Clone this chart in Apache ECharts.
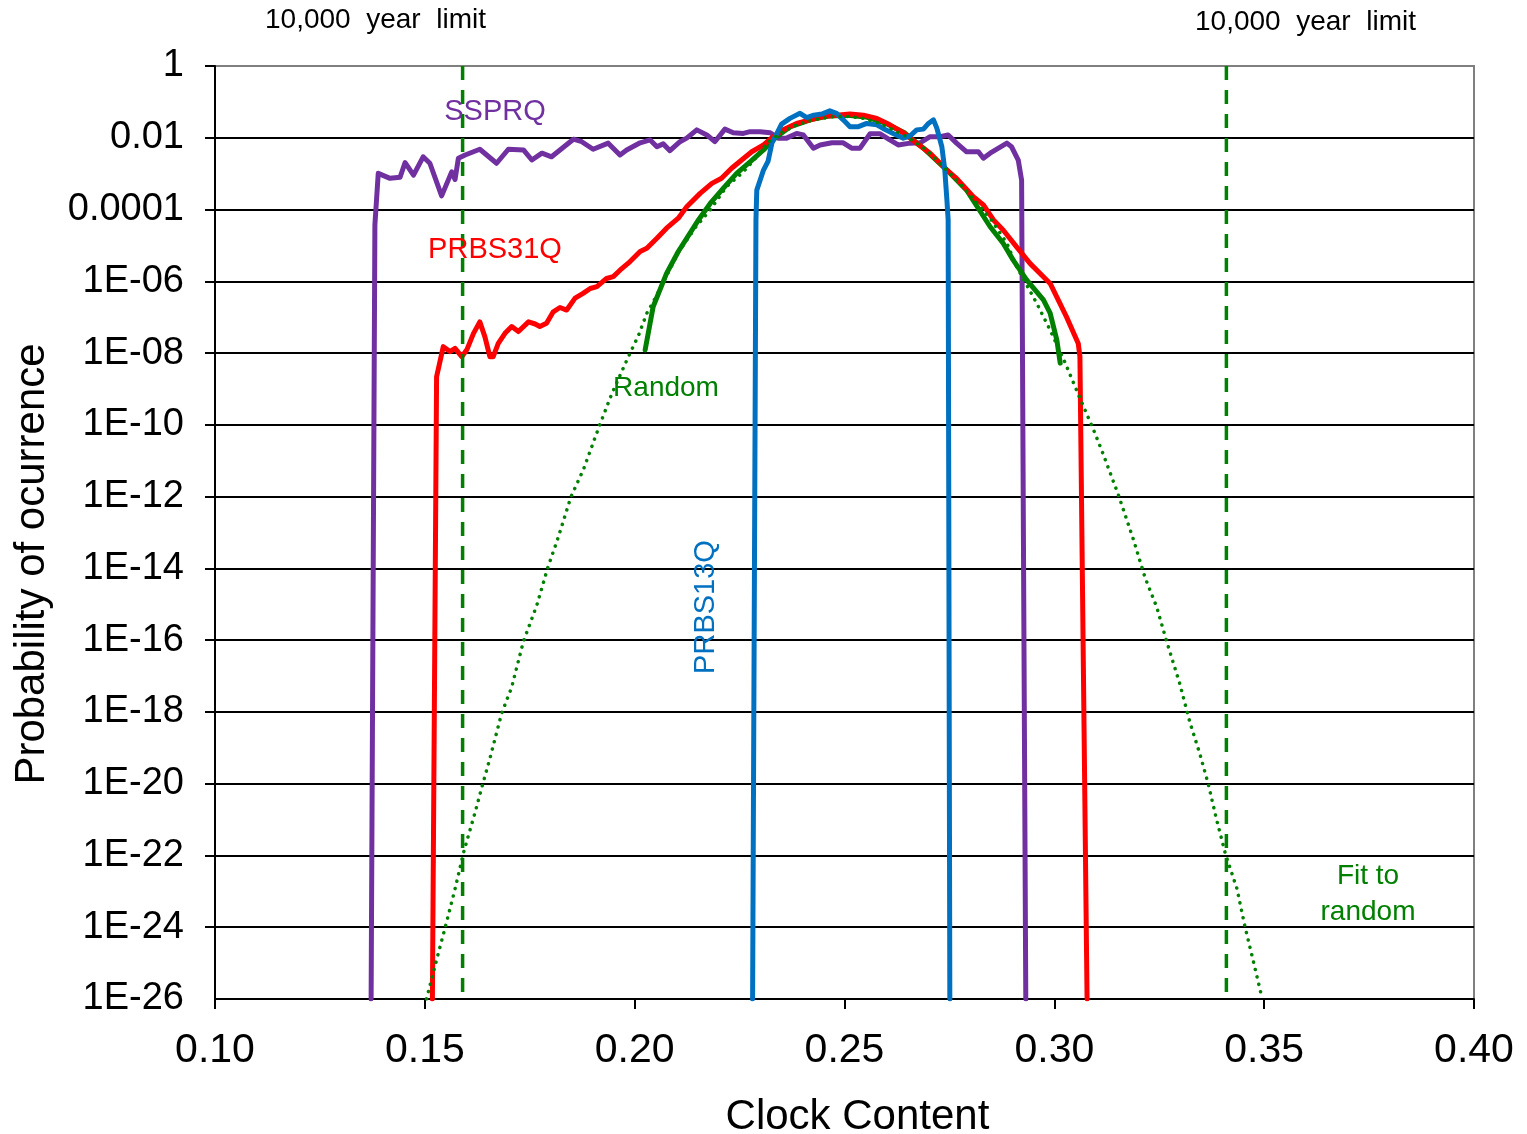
<!DOCTYPE html>
<html><head><meta charset="utf-8">
<script src="https://cdn.jsdelivr.net/npm/echarts@6/dist/echarts.min.js"></script>
<style>html,body{margin:0;padding:0;background:#fff}#c{width:1527px;height:1134px}</style>
</head><body><div id="c"></div>
<script>
// ---- Data ----
const xTicks = [0.10, 0.15, 0.20, 0.25, 0.30, 0.35, 0.40];
const yTicks = [1e-26, 1e-24, 1e-22, 1e-20, 1e-18, 1e-16, 1e-14, 1e-12, 1e-10, 1e-8, 1e-6, 1e-4, 1e-2, 1];
const limitX = [0.159, 0.341];

const ssprqX = [0.1372,0.1381,0.1389,0.1417,0.1441,0.1453,0.1473,0.1496,0.1512,0.1540,0.1564,0.1572,0.1580,0.1596,0.1631,0.1671,0.1699,0.1735,0.1755,0.1779,0.1802,0.1854,0.1874,0.1901,0.1937,0.1965,0.1981,0.2013,0.2037,0.2053,0.2068,0.2084,0.2108,0.2124,0.2148,0.2172,0.2191,0.2215,0.2235,0.2259,0.2275,0.2299,0.2323,0.2342,0.2362,0.2386,0.2402,0.2426,0.2442,0.2470,0.2497,0.2517,0.2537,0.2561,0.2585,0.2608,0.2628,0.2656,0.2680,0.2704,0.2728,0.2747,0.2767,0.2791,0.2819,0.2831,0.2847,0.2887,0.2898,0.2914,0.2922,0.2932];
const ssprqP = [1e-26,3.72e-5,1.02e-3,7.41e-4,7.94e-4,2.04e-3,9.12e-4,2.95e-3,1.95e-3,2.40e-4,1.12e-3,6.92e-4,2.69e-3,3.31e-3,4.79e-3,1.95e-3,4.79e-3,4.57e-3,2.40e-3,3.72e-3,2.95e-3,9.12e-3,7.76e-3,4.79e-3,7.08e-3,3.31e-3,4.57e-3,7.24e-3,8.71e-3,5.62e-3,6.76e-3,4.37e-3,7.76e-3,9.77e-3,1.66e-2,1.20e-2,7.76e-3,1.74e-2,1.38e-2,1.32e-2,1.48e-2,1.48e-2,1.38e-2,9.77e-3,9.77e-3,1.32e-2,1.20e-2,5.13e-3,6.31e-3,7.24e-3,7.24e-3,5.13e-3,5.13e-3,1.29e-2,1.29e-2,8.71e-3,6.31e-3,7.08e-3,7.24e-3,1.07e-2,1.07e-2,1.20e-2,7.08e-3,4.07e-3,4.07e-3,2.69e-3,3.72e-3,7.08e-3,5.62e-3,2.40e-3,6.61e-4,1e-26];

const prbs31X = [0.1518,0.1528,0.1544,0.1560,0.1572,0.1588,0.1600,0.1616,0.1631,0.1643,0.1655,0.1663,0.1675,0.1691,0.1707,0.1723,0.1747,0.1763,0.1774,0.1790,0.1806,0.1822,0.1838,0.1858,0.1878,0.1894,0.1910,0.1933,0.1949,0.1965,0.1989,0.2013,0.2029,0.2053,0.2076,0.2104,0.2124,0.2156,0.2184,0.2207,0.2231,0.2255,0.2279,0.2307,0.2330,0.2354,0.2386,0.2418,0.2450,0.2481,0.2513,0.2545,0.2577,0.2608,0.2640,0.2672,0.2704,0.2744,0.2767,0.2807,0.2831,0.2855,0.2878,0.2910,0.2942,0.2990,0.3029,0.3057,0.3061,0.3078];
const prbs31P = [1e-26,2.19e-9,1.51e-8,1.10e-8,1.35e-8,7.94e-9,1.23e-8,3.55e-8,7.41e-8,2.88e-8,7.94e-9,7.94e-9,1.86e-8,3.55e-8,5.50e-8,3.98e-8,7.41e-8,6.46e-8,5.50e-8,6.76e-8,1.41e-7,1.86e-7,1.58e-7,3.39e-7,4.68e-7,6.31e-7,7.08e-7,1.20e-6,1.35e-6,2.04e-6,3.55e-6,6.76e-6,8.32e-6,1.58e-5,3.02e-5,5.75e-5,1.20e-4,2.82e-4,5.37e-4,7.41e-4,1.41e-3,2.40e-3,4.07e-3,6.31e-3,1.07e-2,1.66e-2,2.51e-2,3.16e-2,3.89e-2,4.27e-2,4.57e-2,4.27e-2,3.47e-2,2.29e-2,1.38e-2,7.08e-3,3.72e-3,1.26e-3,7.41e-4,2.29e-4,1.35e-4,5.13e-5,2.69e-5,9.12e-6,3.16e-6,8.71e-7,1.02e-7,1.86e-8,7.94e-9,1e-26];

const randomX = [0.2025,0.2044,0.2076,0.2104,0.2152,0.2180,0.2211,0.2243,0.2275,0.2307,0.2338,0.2370,0.2418,0.2465,0.2508,0.2551,0.2597,0.2644,0.2688,0.2744,0.2791,0.2847,0.2878,0.2902,0.2934,0.2974,0.2990,0.3006,0.3014];
const randomP = [1.23e-8,1.95e-7,1.66e-6,6.76e-6,5.13e-5,1.48e-4,3.89e-4,1.02e-3,2.14e-3,4.57e-3,1.07e-2,2.00e-2,3.16e-2,4.07e-2,4.27e-2,3.80e-2,2.57e-2,1.35e-2,5.13e-3,1.26e-3,3.47e-4,3.31e-5,1.15e-5,3.89e-6,1.10e-6,3.02e-7,1.29e-7,2.29e-8,5.25e-9];

const fitX = [0.1504,0.1528,0.1548,0.1572,0.1593,0.1620,0.1637,0.1655,0.1683,0.1707,0.1735,0.1767,0.1793,0.1818,0.1848,0.1878,0.1917,0.1945,0.1985,0.2009,0.2029,0.2049,0.2105,0.2144,0.2180,0.2219,0.2259,0.2291,0.2315,0.2346,0.2386,0.2426,0.2473,0.2513,0.2545,0.2585,0.2616,0.2648,0.2696,0.2735,0.2775,0.2823,0.2847,0.2887,0.2910,0.2958,0.2990,0.3025,0.3061,0.3091,0.3113,0.3152,0.3188,0.3216,0.3244,0.3266,0.3299,0.3323,0.3347,0.3367,0.3387,0.3408,0.3435,0.3454,0.3474,0.3492,0.3495];
const fitP = [1e-26,1.23e-25,9.33e-25,1.17e-23,1.29e-22,1.62e-21,8.91e-21,5.01e-20,9.12e-19,4.90e-18,9.33e-17,9.55e-16,1.05e-14,7.41e-14,9.77e-13,5.75e-12,1.02e-10,7.08e-10,7.94e-9,3.09e-8,1.29e-7,3.39e-7,6.61e-6,3.09e-5,9.77e-5,4.37e-4,1.12e-3,2.95e-3,7.08e-3,1.32e-2,2.29e-2,3.16e-2,3.89e-2,3.89e-2,3.47e-2,2.51e-2,1.66e-2,1.07e-2,4.57e-3,1.55e-3,5.37e-4,1.20e-4,5.75e-5,1.15e-5,2.57e-6,2.45e-7,4.37e-8,5.62e-9,5.50e-10,8.51e-11,1.95e-11,1.17e-12,6.61e-14,5.62e-15,8.32e-16,1.07e-16,6.03e-18,5.13e-19,6.61e-20,9.55e-21,9.55e-22,1.07e-22,1.20e-23,1.07e-24,1.15e-25,1.48e-26,1e-26];

const prbs13X = [0.2281,0.2289,0.2291,0.2307,0.2318,0.2327,0.2339,0.2350,0.2370,0.2394,0.2410,0.2427,0.2446,0.2465,0.2481,0.2497,0.2513,0.2533,0.2553,0.2577,0.2592,0.2616,0.2640,0.2656,0.2672,0.2688,0.2700,0.2712,0.2720,0.2732,0.2739,0.2744,0.2747,0.2751];
const prbs13P = [1e-26,5.13e-5,3.47e-4,1.26e-3,2.24e-3,7.08e-3,1.32e-2,2.40e-2,3.47e-2,4.79e-2,3.63e-2,4.27e-2,4.57e-2,5.62e-2,4.79e-2,3.16e-2,2.04e-2,2.04e-2,2.51e-2,2.29e-2,1.82e-2,1.32e-2,9.77e-3,1.12e-2,1.66e-2,1.74e-2,2.51e-2,3.16e-2,1.86e-2,5.62e-3,1.26e-3,1.86e-4,5.13e-5,1e-26];

const yMin = yTicks[0], yMax = yTicks[yTicks.length - 1];

// ---- Chart ----
const FONT = '"Liberation Sans", Arial, sans-serif';
const pairs = (xs, ps) => xs.map((x, i) => [x, ps[i]]);
const C = { purple: '#7030A0', red: '#FF0000', blue: '#0070C0', green: '#008000' };

function yLabel(v) {
  const e = Math.round(Math.log10(v));
  if (e === 0) return '1';
  if (e >= -4) return (Math.pow(10, e)).toFixed(-e);
  const n = -e;
  return '1E-' + (n < 10 ? '0' + n : String(n));
}

const chart = echarts.init(document.getElementById('c'), null, { renderer: 'canvas' });
const lineSeries = (name, data, color, z, extra) => Object.assign({
  name, type: 'line', data, symbol: 'none', z, clip: true,
  lineStyle: { color, width: 5, cap: 'round', join: 'round' },
  emphasis: { disabled: true }
}, extra || {});

const series = [
  lineSeries('SSPRQ', pairs(ssprqX, ssprqP), C.purple, 2),
  lineSeries('Random', pairs(randomX, randomP), C.green, 3),
  lineSeries('PRBS31Q', pairs(prbs31X, prbs31P), C.red, 4),
  lineSeries('PRBS13Q', pairs(prbs13X, prbs13P), C.blue, 5),
  lineSeries('Fit to random', pairs(fitX, fitP), C.green, 6,
    { lineStyle: { color: C.green, width: 3.5, type: [0.1, 7.5], cap: 'round' } })
];
limitX.forEach((x, i) => {
  series.push(lineSeries('limit' + i, [[x, yMax], [x, yMin]], C.green, 7,
    { lineStyle: { color: C.green, width: 3.5, type: [14, 10], cap: 'butt' } }));
});

chart.setOption({
  animation: false,
  backgroundColor: '#fff',
  textStyle: { fontFamily: FONT },
  grid: { left: 215, right: 53, top: 66, bottom: 135, show: true, borderColor: '#808080', borderWidth: 2, backgroundColor: 'transparent', outerBoundsMode: 'none' },
  xAxis: {
    type: 'value', min: xTicks[0], max: xTicks[xTicks.length - 1], interval: 0.05,
    name: 'Clock Content', nameLocation: 'middle', nameGap: 97,
    nameTextStyle: { fontSize: 42, color: '#000', fontFamily: FONT, padding: [0, 0, 0, 26] },
    axisLine: { show: true, lineStyle: { color: '#000', width: 2 } },
    axisTick: { show: true, inside: false, length: 10, lineStyle: { color: '#000', width: 2 } },
    axisLabel: { fontSize: 41, color: '#000', margin: 31, fontFamily: FONT, formatter: v => v.toFixed(2), showMinLabel: true, showMaxLabel: true },
    splitLine: { show: false }
  },
  yAxis: {
    type: 'log', logBase: 10, min: yMin, max: yMax, interval: 2, splitNumber: 13,
    axisLine: { show: true, lineStyle: { color: '#000', width: 2 } },
    axisTick: { show: true, inside: false, length: 10, lineStyle: { color: '#000', width: 2 } },
    axisLabel: { fontSize: 38, color: '#000', margin: 31, fontFamily: FONT, formatter: yLabel, customValues: yTicks, showMinLabel: true, showMaxLabel: true, hideOverlap: false },
    splitLine: { show: true, showMaxLine: false, lineStyle: { color: '#000', width: 2 } },
    minorTick: { show: false }, minorSplitLine: { show: false }
  },
  series,
  graphic: [
    { type: 'text', x: 32, y: 564, rotation: Math.PI / 2, style: { text: 'Probability of ocurrence', font: '42px ' + FONT, fill: '#000', textAlign: 'center', textVerticalAlign: 'middle' } },
    { type: 'text', x: 265, y: 20, style: { text: '10,000  year  limit', font: '28px ' + FONT, fill: '#000', textAlign: 'left', textVerticalAlign: 'middle' } },
    { type: 'text', x: 1195, y: 22, style: { text: '10,000  year  limit', font: '28px ' + FONT, fill: '#000', textAlign: 'left', textVerticalAlign: 'middle' } },
    { type: 'text', x: 495, y: 112, z: 100, style: { text: 'SSPRQ', font: '29px ' + FONT, fill: C.purple, textAlign: 'center', textVerticalAlign: 'middle' } },
    { type: 'text', x: 495, y: 250, z: 100, style: { text: 'PRBS31Q', font: '29px ' + FONT, fill: C.red, textAlign: 'center', textVerticalAlign: 'middle' } },
    { type: 'text', x: 666, y: 388, z: 100, style: { text: 'Random', font: '28px ' + FONT, fill: C.green, textAlign: 'center', textVerticalAlign: 'middle' } },
    { type: 'text', x: 706, y: 607, rotation: Math.PI / 2, z: 100, style: { text: 'PRBS13Q', font: '29px ' + FONT, fill: C.blue, textAlign: 'center', textVerticalAlign: 'middle' } },
    { type: 'text', x: 1368, y: 876, z: 100, style: { text: 'Fit to', font: '28px ' + FONT, fill: C.green, textAlign: 'center', textVerticalAlign: 'middle' } },
    { type: 'text', x: 1368, y: 912, z: 100, style: { text: 'random', font: '28px ' + FONT, fill: C.green, textAlign: 'center', textVerticalAlign: 'middle' } }
  ]
});
</script>
</body></html>
